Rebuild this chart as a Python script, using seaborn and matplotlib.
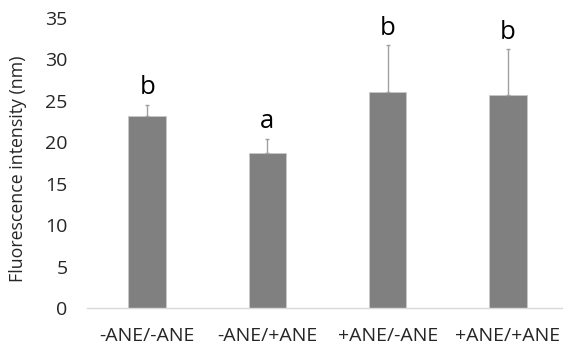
import numpy as np
import pandas as pd
import matplotlib
matplotlib.use("Agg")
import matplotlib.pyplot as plt
import seaborn as sns

# valeurs
groupes = ['-ANE/-ANE', '-ANE/+ANE', '+ANE/-ANE', '+ANE/+ANE']
moyennes = [23.2, 18.65, 26.1, 25.7]
erreurs = [1.3, 1.8, 5.6, 5.5]
lettres = ['b', 'a', 'b', 'b']

sns.set_theme(style="white")
plt.rcParams['font.family'] = ['Open Sans', 'DejaVu Sans']

df = pd.DataFrame({'groupe': groupes, 'moyenne': moyennes})

fig = plt.figure(figsize=(5.63, 3.48), dpi=100)
ax = fig.add_axes([87 / 563, 1 - 308 / 348, 1 - 87 / 563, (308 - 18) / 348])

sns.barplot(data=df, x='groupe', y='moyenne', color='#808080', saturation=1,
            width=0.31, errorbar=None, edgecolor='#c8c8c8', linewidth=0.6, ax=ax)

x = np.arange(len(groupes))
ax.errorbar(x, moyennes, yerr=[np.zeros(len(erreurs)), erreurs], fmt='none',
            ecolor='#a0a0a0', elinewidth=1, capsize=1.5, capthick=1)

for i in range(len(groupes)):
    ax.text(x[i], moyennes[i] + erreurs[i] + 1.3, lettres[i], ha='center',
            va='baseline', fontsize=18.5, color='black')

ax.set_ylim(0, 35)
ax.set_xlim(-0.5, 3 + (563 - 508) / 120)
ax.set_yticks(range(0, 36, 5))
ax.set_xlabel('')
ax.set_ylabel('Fluorescence intensity (nm)', fontsize=12.8, color='#262626')
ax.yaxis.set_label_coords(-0.125, 0.48)
ax.tick_params(axis='both', length=0, labelsize=14, labelcolor='#262626')
ax.tick_params(axis='y', pad=14)
ax.tick_params(axis='x', pad=14)

for s in ['top', 'right', 'left']:
    ax.spines[s].set_visible(False)
ax.spines['bottom'].set_color('#d9d9d9')
ax.spines['bottom'].set_linewidth(1)

fig.savefig('out.png', dpi=100)
